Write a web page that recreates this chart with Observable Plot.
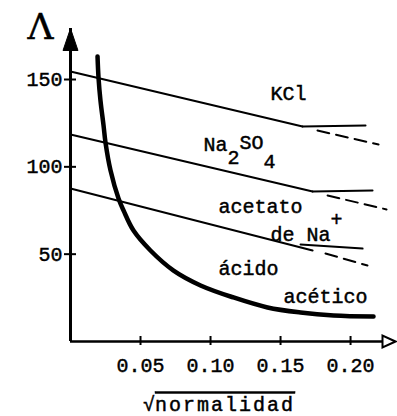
<!DOCTYPE html>
<html><head><meta charset="utf-8">
<script src="https://cdn.jsdelivr.net/npm/d3@7"></script>
<script src="https://cdn.jsdelivr.net/npm/@observablehq/plot@0.6"></script>
<style>
body{margin:0;background:#fff;}
svg text{stroke:black;stroke-width:0.45px;}
</style></head><body><div id="chart"></div>
<script>
// ---- axis ticks ----
const xTicks = [0.05, 0.10, 0.15, 0.20];
const xTickLabels = ["0.05", "0.10", "0.15", "0.20"];
const yTicks = [50, 100, 150];
const xMax = 0.2321;
const yMax = 179.2;

// ---- KCl ----
const kclSolidX = [0, 0.1657];
const kclSolidY = [154.6, 123.1];
const kclPlateauX = [0.1657, 0.2107];
const kclPlateauY = [123.1, 123.7];
const kclDashX = [0.1764, 0.2200];
const kclDashY = [120.8, 112.8];

// ---- Na2SO4 ----
const naSolidX = [0, 0.1729];
const naSolidY = [118.5, 85.9];
const naPlateauX = [0.1729, 0.2157];
const naPlateauY = [85.9, 86.5];
const naDashX = [0.1836, 0.2257];
const naDashY = [83.6, 75.6];

// ---- acetato de Na+ ----
const acSolidX = [0, 0.1729];
const acSolidY = [87.6, 52.1];
const acPlateauX = [0.1643, 0.2086];
const acPlateauY = [55.5, 53.2];
const acDashX = [0.1821, 0.2121];
const acDashY = [50.4, 43.5];

// ---- ácido acético ----
const acidX = [0.0193, 0.0200, 0.0214, 0.0236, 0.0250, 0.0286, 0.0343, 0.0379, 0.0450, 0.0571, 0.0736, 0.0929, 0.1164, 0.1407, 0.1643, 0.1879, 0.2164];
const acidY = [163.2, 151.1, 138.0, 123.7, 113.9, 97.9, 81.9, 75.0, 63.5, 52.1, 40.6, 32.1, 25.2, 19.5, 16.6, 14.9, 14.3];

// ---- labels ----
const labelText = ["KCl", "Na2SO4", "acetato", "de Na+", "ácido", "acético"];
const labelX = [0.1429, 0.0950, 0.1057, 0.1429, 0.1057, 0.1521];
const labelY = [138.0, 109.3, 73.3, 57.8, 37.8, 22.3];

// build tables
const seg = (name, xs, ys) => xs.map((x, i) => ({series: name, x, y: ys[i]}));
const solidRows = [...seg("KCl", kclSolidX, kclSolidY), ...seg("Na2SO4", naSolidX, naSolidY), ...seg("acetato", acSolidX, acSolidY)];
const plateauRows = [...seg("KCl", kclPlateauX, kclPlateauY), ...seg("Na2SO4", naPlateauX, naPlateauY), ...seg("acetato", acPlateauX, acPlateauY)];
const dashRows = [...seg("KCl", kclDashX, kclDashY), ...seg("Na2SO4", naDashX, naDashY), ...seg("acetato", acDashX, acDashY)];
const acidRows = seg("acido", acidX, acidY);
const labels = labelText.map((t, i) => ({t, x: labelX[i], y: labelY[i]}));

const upArrow = {draw(ctx, size) { const r = Math.sqrt(size / Math.PI); ctx.moveTo(0, 0); ctx.lineTo(0.34 * r, r); ctx.lineTo(-0.34 * r, r); ctx.closePath(); }};
const rightArrow = {draw(ctx, size) { const r = Math.sqrt(size / Math.PI); ctx.moveTo(0, 0); ctx.lineTo(-r, 0.45 * r); ctx.lineTo(-r, -0.45 * r); ctx.closePath(); }};

const mono = "Liberation Mono, DejaVu Sans Mono, monospace";

const chart = Plot.plot({
  width: 397,
  height: 416,
  marginLeft: 70,
  marginRight: 2,
  marginTop: 28,
  marginBottom: 75,
  style: {fontFamily: mono, fontSize: "20px", background: "white", color: "black"},
  x: {domain: [0, xMax], label: null},
  y: {domain: [0, yMax], label: null},
  marks: [
    Plot.ruleX([0], {strokeWidth: 3}),
    Plot.ruleY([0], {strokeWidth: 2.6}),
    Plot.dot([null], {frameAnchor: "top-left", symbol: upArrow, r: 22, fill: "black", stroke: "black", strokeWidth: 1}),
    Plot.dot([null], {frameAnchor: "bottom-right", symbol: rightArrow, r: 13, fill: "white", stroke: "black", strokeWidth: 2}),
    Plot.axisY({ticks: yTicks, tickSize: 12, dx: 6, strokeWidth: 2, tickFormat: () => ""}),
    Plot.axisY({ticks: yTicks, tickSize: 0, tickPadding: 8, fontSize: 20, fontFamily: mono, tickFormat: d => String(d)}),
    Plot.axisX({ticks: xTicks, tickSize: 9, dy: -5, strokeWidth: 2, tickFormat: () => ""}),
    Plot.axisX({ticks: xTicks, tickSize: 0, tickPadding: 16, fontSize: 20, fontFamily: mono, tickFormat: (d, i) => xTickLabels[i]}),
    Plot.line(solidRows, {x: "x", y: "y", z: "series", strokeWidth: 2}),
    Plot.line(plateauRows, {x: "x", y: "y", z: "series", strokeWidth: 2}),
    Plot.line(dashRows, {x: "x", y: "y", z: "series", strokeWidth: 2, strokeDasharray: "12,7"}),
    Plot.line(acidRows, {x: "x", y: "y", curve: "catmull-rom", strokeWidth: 4.5}),
    Plot.text(labels, {x: "x", y: "y", text: "t", textAnchor: "start", lineAnchor: "bottom", fontSize: 20, fontFamily: mono}),
    Plot.text(["Λ"], {text: d => d, frameAnchor: "top-left", dx: -43, dy: 10, lineAnchor: "bottom", fontFamily: "DejaVu Serif, serif", fontSize: 36}),
    Plot.text(["√normalidad"], {text: d => d, frameAnchor: "bottom", dx: -14, dy: 69, lineAnchor: "bottom", fontSize: 20, fontFamily: mono})
  ]
});
document.getElementById("chart").appendChild(chart);

// typographic touches: subscripts, superscript, radical overline
const svg = d3.select(chart.tagName === "svg" ? chart : chart.querySelector("svg"));
svg.selectAll("text").each(function() {
  const el = d3.select(this);
  const t = this.textContent;
  if (t === "Na2SO4") {
    el.text(null);
    el.append("tspan").text("Na");
    el.append("tspan").attr("dy", 13).text("2");
    el.append("tspan").attr("dy", -15).text("SO");
    el.append("tspan").attr("dy", 19).text("4");
  } else if (t === "de Na+") {
    el.text(null);
    el.append("tspan").text("de Na");
    el.append("tspan").attr("dy", -15).text("+");
  } else if (t === "√normalidad") {
    el.text(null);
    el.append("tspan").text("√");
    el.append("tspan").style("text-decoration", "overline").style("letter-spacing", "2px").text("normalidad");
  }
});
</script></body></html>
